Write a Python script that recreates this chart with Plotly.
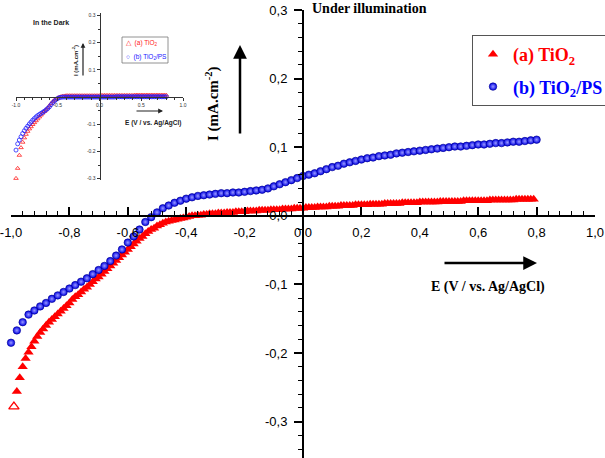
import plotly.graph_objects as go

# ---------------- data ----------------
# Main plot, (a) TiO2 under illumination: potential (V) and current (mA/cm2)
E_RED = [
    -0.99, -0.98, -0.97, -0.96, -0.95, -0.94, -0.93, -0.92, -0.91, -0.90,
    -0.89, -0.88, -0.87, -0.86, -0.85, -0.84, -0.83, -0.82, -0.81, -0.80,
    -0.79, -0.78, -0.77, -0.76, -0.75, -0.74, -0.73, -0.72, -0.71, -0.70,
    -0.69, -0.68, -0.67, -0.66, -0.65, -0.64, -0.63, -0.62, -0.61, -0.60,
    -0.59, -0.58, -0.57, -0.56, -0.55, -0.54, -0.53, -0.52, -0.51, -0.50,
    -0.49, -0.48, -0.47, -0.46, -0.45, -0.44, -0.43, -0.42, -0.41, -0.40,
    -0.39, -0.38, -0.37, -0.36, -0.35, -0.34, -0.33, -0.32, -0.31, -0.30,
    -0.29, -0.28, -0.27, -0.26, -0.25, -0.24, -0.23, -0.22, -0.21, -0.20,
    -0.19, -0.18, -0.17, -0.16, -0.15, -0.14, -0.13, -0.12, -0.11, -0.10,
    -0.09, -0.08, -0.07, -0.06, -0.05, -0.04, -0.03, -0.02, -0.01, 0.00,
    0.01, 0.02, 0.03, 0.04, 0.05, 0.06, 0.07, 0.08, 0.09, 0.10,
    0.11, 0.12, 0.13, 0.14, 0.15, 0.16, 0.17, 0.18, 0.19, 0.20,
    0.21, 0.22, 0.23, 0.24, 0.25, 0.26, 0.27, 0.28, 0.29, 0.30,
    0.31, 0.32, 0.33, 0.34, 0.35, 0.36, 0.37, 0.38, 0.39, 0.40,
    0.41, 0.42, 0.43, 0.44, 0.45, 0.46, 0.47, 0.48, 0.49, 0.50,
    0.51, 0.52, 0.53, 0.54, 0.55, 0.56, 0.57, 0.58, 0.59, 0.60,
    0.61, 0.62, 0.63, 0.64, 0.65, 0.66, 0.67, 0.68, 0.69, 0.70,
    0.71, 0.72, 0.73, 0.74, 0.75, 0.76, 0.77, 0.78, 0.79,
]
I_TIO2_LIGHT = [
    -0.278, -0.256, -0.236, -0.220, -0.208, -0.199, -0.191, -0.183, -0.176, -0.170,
    -0.165, -0.160, -0.155, -0.151, -0.147, -0.143, -0.139, -0.135, -0.131, -0.127,
    -0.122, -0.118, -0.115, -0.111, -0.107, -0.104, -0.100, -0.096, -0.092, -0.089,
    -0.085, -0.081, -0.077, -0.073, -0.069, -0.065, -0.061, -0.057, -0.053, -0.049,
    -0.045, -0.041, -0.037, -0.033, -0.030, -0.026, -0.023, -0.020, -0.018, -0.015,
    -0.013, -0.011, -0.009, -0.008, -0.007, -0.006, -0.005, -0.004, -0.003, -0.002,
    -0.001, 0.000, 0.000, 0.001, 0.001, 0.002, 0.002, 0.003, 0.003, 0.003,
    0.004, 0.004, 0.004, 0.005, 0.005, 0.005, 0.006, 0.006, 0.006, 0.006,
    0.007, 0.007, 0.007, 0.007, 0.008, 0.008, 0.008, 0.008, 0.009, 0.009,
    0.009, 0.009, 0.010, 0.010, 0.010, 0.010, 0.011, 0.011, 0.011, 0.011,
    0.012, 0.012, 0.012, 0.012, 0.013, 0.013, 0.013, 0.013, 0.014, 0.014,
    0.014, 0.014, 0.015, 0.015, 0.015, 0.015, 0.015, 0.016, 0.016, 0.016,
    0.016, 0.016, 0.017, 0.017, 0.017, 0.017, 0.017, 0.018, 0.018, 0.018,
    0.018, 0.018, 0.018, 0.019, 0.019, 0.019, 0.019, 0.019, 0.019, 0.020,
    0.020, 0.020, 0.020, 0.020, 0.020, 0.020, 0.021, 0.021, 0.021, 0.021,
    0.021, 0.021, 0.021, 0.021, 0.022, 0.022, 0.022, 0.022, 0.022, 0.022,
    0.022, 0.022, 0.022, 0.023, 0.023, 0.023, 0.023, 0.023, 0.023, 0.023,
    0.023, 0.023, 0.024, 0.024, 0.024, 0.024, 0.024, 0.024, 0.024,
]

# Potential sweep used for (b) TiO2/PS (main) and both inset curves
E_SWEEP = [
    -1.00, -0.98, -0.96, -0.94, -0.92, -0.90, -0.88, -0.86, -0.84, -0.82,
    -0.80, -0.78, -0.76, -0.74, -0.72, -0.70, -0.68, -0.66, -0.64, -0.62,
    -0.60, -0.58, -0.56, -0.54, -0.52, -0.50, -0.48, -0.46, -0.44, -0.42,
    -0.40, -0.38, -0.36, -0.34, -0.32, -0.30, -0.28, -0.26, -0.24, -0.22,
    -0.20, -0.18, -0.16, -0.14, -0.12, -0.10, -0.08, -0.06, -0.04, -0.02,
    0.00, 0.02, 0.04, 0.06, 0.08, 0.10, 0.12, 0.14, 0.16, 0.18,
    0.20, 0.22, 0.24, 0.26, 0.28, 0.30, 0.32, 0.34, 0.36, 0.38,
    0.40, 0.42, 0.44, 0.46, 0.48, 0.50, 0.52, 0.54, 0.56, 0.58,
    0.60, 0.62, 0.64, 0.66, 0.68, 0.70, 0.72, 0.74, 0.76, 0.78,
    0.80,
]
I_PS_LIGHT = [
    -0.185, -0.167, -0.155, -0.144, -0.138, -0.132, -0.127, -0.121, -0.116, -0.111,
    -0.106, -0.101, -0.096, -0.091, -0.085, -0.079, -0.073, -0.066, -0.058, -0.049,
    -0.039, -0.030, -0.020, -0.009, -0.002, 0.005, 0.011, 0.015, 0.019, 0.022,
    0.025, 0.027, 0.029, 0.030, 0.031, 0.032, 0.033, 0.033, 0.034, 0.034,
    0.035, 0.036, 0.037, 0.038, 0.040, 0.043, 0.046, 0.049, 0.052, 0.055,
    0.058, 0.060, 0.062, 0.065, 0.068, 0.071, 0.073, 0.076, 0.078, 0.080,
    0.082, 0.084, 0.085, 0.087, 0.088, 0.089, 0.091, 0.092, 0.093, 0.094,
    0.095, 0.096, 0.097, 0.098, 0.099, 0.100, 0.101, 0.101, 0.102, 0.103,
    0.104, 0.104, 0.105, 0.106, 0.106, 0.107, 0.108, 0.108, 0.109, 0.110,
    0.111,
]
# Inset (in the dark)
I_TIO2_DARK = [
    -0.299, -0.262, -0.214, -0.186, -0.166, -0.150, -0.137, -0.126, -0.117, -0.109,
    -0.101, -0.094, -0.087, -0.080, -0.073, -0.066, -0.059, -0.053, -0.047, -0.040,
    -0.032, -0.024, -0.017, -0.011, -0.007, -0.003, 0.000, 0.002, 0.003, 0.004,
    0.005, 0.005, 0.005, 0.005, 0.005, 0.005, 0.005, 0.005, 0.005, 0.005,
    0.005, 0.005, 0.005, 0.005, 0.005, 0.005, 0.005, 0.005, 0.005, 0.005,
    0.005, 0.006, 0.006, 0.006, 0.006, 0.006, 0.006, 0.006, 0.006, 0.006,
    0.006, 0.006, 0.006, 0.006, 0.006, 0.006, 0.006, 0.006, 0.006, 0.006,
    0.006, 0.007, 0.007, 0.007, 0.007, 0.007, 0.007, 0.007, 0.007, 0.007,
    0.007, 0.007, 0.007, 0.007, 0.007, 0.007, 0.007, 0.007, 0.007, 0.007,
    0.007,
]
I_PS_DARK = [
    -0.195, -0.172, -0.158, -0.146, -0.134, -0.124, -0.115, -0.107, -0.099, -0.092,
    -0.085, -0.079, -0.073, -0.068, -0.064, -0.060, -0.056, -0.052, -0.047, -0.042,
    -0.036, -0.028, -0.021, -0.015, -0.009, -0.005, -0.002, -0.001, 0.000, 0.000,
    0.000, 0.000, 0.000, 0.000, 0.000, 0.000, 0.000, 0.000, 0.000, 0.000,
    0.000, 0.000, 0.000, 0.000, 0.000, 0.000, 0.000, 0.000, 0.000, 0.000,
    0.000, 0.000, 0.000, 0.000, 0.000, 0.000, 0.000, 0.000, 0.000, 0.000,
    0.001, 0.001, 0.001, 0.001, 0.001, 0.001, 0.001, 0.001, 0.001, 0.001,
    0.001, 0.001, 0.001, 0.001, 0.001, 0.001, 0.001, 0.001, 0.001, 0.001,
    0.001, 0.001, 0.001, 0.001, 0.001, 0.001, 0.001, 0.001, 0.001, 0.001,
    0.001,
]

X_TICKS = [-1.0, -0.8, -0.6, -0.4, -0.2, 0.0, 0.2, 0.4, 0.6, 0.8, 1.0]
X_TICK_LABELS = ["-1,0", "-0,8", "-0,6", "-0,4", "-0,2", "0,0", "0,2", "0,4", "0,6", "0,8", "1,0"]
Y_TICKS = [-0.3, -0.2, -0.1, 0.0, 0.1, 0.2, 0.3]
Y_TICK_LABELS = ["-0,3", "-0,2", "-0,1", "0,0", "0,1", "0,2", "0,3"]
INSET_X_TICKS = [-1.0, -0.5, 0.0, 0.5, 1.0]
INSET_X_LABELS = ["-1.0", "-0.5", "0.0", "0.5", "1.0"]
INSET_Y_TICKS = [-0.3, -0.2, -0.1, 0.1, 0.2, 0.3]
INSET_Y_LABELS = ["-0.3", "-0.2", "-0.1", "0.1", "0.2", "0.3"]

assert len(E_RED) == len(I_TIO2_LIGHT)
assert len(E_SWEEP) == len(I_PS_LIGHT) == len(I_TIO2_DARK) == len(I_PS_DARK)

# ---------------- layout helpers ----------------
W, H = 605, 458
ML, MR, MT, MB = 11, 10, 10, 0
PW, PH = W - ML - MR, H - MT - MB
def px(x):
    return (x - ML) / PW
def py(y):
    return (H - MB - y) / PH

Y_RANGE = [-0.353, 0.3]
X0_POS = (0 - Y_RANGE[0]) / (Y_RANGE[1] - Y_RANGE[0])

INS_YR = [-0.305, 0.309]
INS_XDOM = [px(16), px(183)]
INS_YDOM = [py(180), py(13)]
INS_X0_POS = INS_YDOM[0] + (INS_YDOM[1] - INS_YDOM[0]) * (0 - INS_YR[0]) / (INS_YR[1] - INS_YR[0])
INS_Y0_POS = INS_XDOM[0] + (INS_XDOM[1] - INS_XDOM[0]) * 0.5

SERIF = "Liberation Serif, Times New Roman, serif"
SANS = "Liberation Sans, Arial, sans-serif"

fig = go.Figure()

fig.add_trace(go.Scatter(
    x=E_RED[:1], y=I_TIO2_LIGHT[:1], mode="markers", showlegend=False,
    marker=dict(symbol="triangle-up-open", size=9, color="#ff0000", line=dict(width=1.3, color="#ff0000")),
    cliponaxis=False, hoverinfo="skip"))
fig.add_trace(go.Scatter(
    x=E_RED[1:], y=I_TIO2_LIGHT[1:], mode="markers", legendgroup="a",
    name="<span style='color:#ff0000'><b>(a) TiO<sub>2</sub></b></span>",
    marker=dict(symbol="triangle-up", size=9, color="#ff0000", line=dict(width=0)),
    cliponaxis=False))
fig.add_trace(go.Scatter(
    x=E_SWEEP, y=I_PS_LIGHT, mode="markers", legendgroup="b",
    name="<span style='color:#0000ff'><b>(b) TiO<sub>2</sub>/PS</b></span>",
    marker=dict(symbol="circle", size=7.5, color="#0000e8",
                gradient=dict(type="radial", color="#9a9aff"),
                line=dict(width=0.6, color="#00008c")),
    cliponaxis=False))

# inset
fig.add_trace(go.Scatter(
    x=E_SWEEP, y=I_TIO2_DARK, mode="markers", xaxis="x2", yaxis="y2", showlegend=False,
    marker=dict(symbol="triangle-up-open", size=4, color="#ff2020", line=dict(width=0.8)),
    cliponaxis=False))
fig.add_trace(go.Scatter(
    x=E_SWEEP, y=I_PS_DARK, mode="markers", xaxis="x2", yaxis="y2", showlegend=False,
    marker=dict(symbol="circle-open", size=4, color="#2020ff", line=dict(width=0.8)),
    cliponaxis=False))

main_tickfont = dict(family=SANS, size=13, color="black")
ins_tickfont = dict(family=SANS, size=5, color="#333")

fig.update_layout(
    width=W, height=H, autosize=False,
    margin=dict(l=ML, r=MR, t=MT, b=MB, autoexpand=False),
    paper_bgcolor="white", plot_bgcolor="white",
    xaxis=dict(domain=[0, 1], range=[-1, 1], anchor="free", position=X0_POS,
               showline=True, linecolor="black", linewidth=2,
               ticks="inside", ticklen=8, tickwidth=1.5, tickcolor="black",
               tickmode="array", tickvals=X_TICKS, ticktext=X_TICK_LABELS,
               tickfont=main_tickfont, showgrid=False, zeroline=False,
               ticklabeloverflow="allow", ticklabelstandoff=5,
               minor=dict(tickmode="linear", tick0=-1, dtick=0.04, ticks="inside",
                          ticklen=4, tickwidth=1.2, tickcolor="black", showgrid=False)),
    yaxis=dict(domain=[0, 1], range=Y_RANGE, anchor="free", position=0.5,
               showline=True, linecolor="black", linewidth=2,
               ticks="outside", ticklen=8, tickwidth=1.5, tickcolor="black",
               tickmode="array", tickvals=Y_TICKS, ticktext=Y_TICK_LABELS,
               tickfont=main_tickfont, showgrid=False, zeroline=False,
               ticklabeloverflow="allow", ticklabelstandoff=4,
               minor=dict(tickmode="linear", tick0=0, dtick=0.02, ticks="outside",
                          ticklen=4, tickwidth=1.2, tickcolor="black", showgrid=False)),
    xaxis2=dict(domain=INS_XDOM, range=[-1, 1], anchor="free", position=INS_X0_POS,
                showline=True, linecolor="#333", linewidth=1,
                ticks="outside", ticklen=3, tickwidth=0.8, tickcolor="#333",
                tickmode="array", tickvals=INSET_X_TICKS, ticktext=INSET_X_LABELS,
                tickfont=ins_tickfont, showgrid=False, zeroline=False,
                ticklabeloverflow="allow",
                minor=dict(tickmode="linear", tick0=-1, dtick=0.1, ticks="outside",
                           ticklen=2, tickwidth=0.6, tickcolor="#333", showgrid=False)),
    yaxis2=dict(domain=INS_YDOM, range=INS_YR, anchor="free", position=INS_Y0_POS,
                showline=True, linecolor="#333", linewidth=1,
                ticks="outside", ticklen=3, tickwidth=0.8, tickcolor="#333",
                tickmode="array", tickvals=INSET_Y_TICKS, ticktext=INSET_Y_LABELS,
                tickfont=ins_tickfont, showgrid=False, zeroline=False,
                ticklabeloverflow="allow",
                minor=dict(tickmode="linear", tick0=0, dtick=0.05, ticks="outside",
                           ticklen=2, tickwidth=0.6, tickcolor="#333", showgrid=False)),
    legend=dict(x=px(472), y=py(35), xanchor="left", yanchor="top",
                bgcolor="white", bordercolor="#555", borderwidth=1,
                font=dict(family=SERIF, size=18, color="black"),
                tracegroupgap=6, itemsizing="trace"),
    showlegend=True,
)

ann = []
# main texts
ann.append(dict(text="<b>Under illumination</b>", x=px(369.5), y=py(8.5), xref="paper", yref="paper",
                showarrow=False, xanchor="center", yanchor="middle",
                font=dict(family=SERIF, size=14, color="black")))
ann.append(dict(text="<b>I (mA.cm<sup>-2</sup>)</b>", x=px(212), y=py(104), xref="paper", yref="paper",
                showarrow=False, textangle=-90, xanchor="center", yanchor="middle",
                font=dict(family=SERIF, size=15, color="black")))
ann.append(dict(text="", x=px(240), y=py(45), xref="paper", yref="paper",
                ax=0, ay=90, showarrow=True, arrowhead=2, arrowsize=1.1, arrowwidth=2.5, arrowcolor="black"))
ann.append(dict(text="<b>E (V / vs. Ag/AgCl)</b>", x=px(487.5), y=py(287), xref="paper", yref="paper",
                showarrow=False, xanchor="center", yanchor="middle",
                font=dict(family=SERIF, size=14, color="black")))
ann.append(dict(text="", x=px(537), y=py(263), xref="paper", yref="paper",
                ax=-94, ay=0, showarrow=True, arrowhead=2, arrowsize=1.1, arrowwidth=2.5, arrowcolor="black"))
# inset texts
ann.append(dict(text="<b>In the Dark</b>", x=px(50.5), y=py(22), xref="paper", yref="paper",
                showarrow=False, xanchor="center", yanchor="middle",
                font=dict(family=SANS, size=7, color="#222")))
ann.append(dict(text="<b>I (mA.cm<sup>-2</sup>)</b>", x=px(75), y=py(61), xref="paper", yref="paper",
                showarrow=False, textangle=-90, xanchor="center", yanchor="middle",
                font=dict(family=SANS, size=6, color="#222")))
ann.append(dict(text="", x=px(83), y=py(43), xref="paper", yref="paper",
                ax=0, ay=34, showarrow=True, arrowhead=2, arrowsize=0.8, arrowwidth=1.2, arrowcolor="#222"))
ann.append(dict(text="<b>E (V / vs. Ag/AgCl)</b>", x=px(152.5), y=py(123), xref="paper", yref="paper",
                showarrow=False, xanchor="center", yanchor="middle",
                font=dict(family=SANS, size=6.5, color="#222")))
ann.append(dict(text="", x=px(163), y=py(111), xref="paper", yref="paper",
                ax=-28, ay=0, showarrow=True, arrowhead=2, arrowsize=0.8, arrowwidth=1.2, arrowcolor="#222"))
ann.append(dict(text="△  (a) TiO<sub>2</sub>", x=px(124), y=py(43), xref="paper", yref="paper",
                showarrow=False, xanchor="left", yanchor="middle",
                font=dict(family=SANS, size=6.5, color="#ff2020")))
ann.append(dict(text="○  (b) TiO<sub>2</sub>/PS", x=px(124), y=py(56.5), xref="paper", yref="paper",
                showarrow=False, xanchor="left", yanchor="middle",
                font=dict(family=SANS, size=6.5, color="#2020ff")))
fig.update_layout(annotations=ann)

fig.add_shape(type="rect", xref="paper", yref="paper",
              x0=px(122), x1=px(168), y0=py(63), y1=py(37),
              line=dict(color="#777", width=0.8), fillcolor="rgba(0,0,0,0)")

fig.write_html("out.html",
               config={"displayModeBar": False},
               post_script="document.body.style.margin='0px';document.body.style.overflow='hidden';")
